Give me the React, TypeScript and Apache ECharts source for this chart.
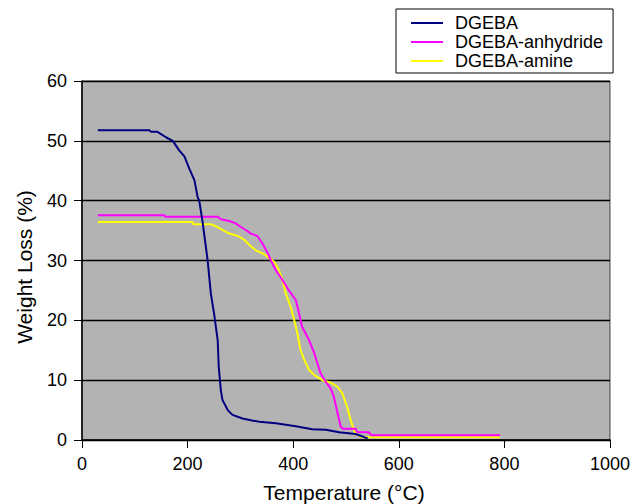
import React, { useEffect, useRef } from "react";
import * as echarts from "echarts";

const seriesNames = ["DGEBA", "DGEBA-anhydride", "DGEBA-amine"];

const dgebaT = [30, 128, 131, 143, 159, 172, 184, 194, 203, 213, 219, 222, 228, 238, 244, 250, 257, 259, 263, 266, 276, 285, 304, 320, 336, 367, 405, 436, 462, 487, 518, 525, 537, 541];
const dgebaW = [51.75, 51.75, 51.5, 51.5, 50.6, 50.0, 48.4, 47.4, 45.4, 43.4, 40.6, 40.0, 36.7, 30.0, 24.5, 21.2, 16.7, 12.2, 8.3, 6.7, 5.0, 4.2, 3.6, 3.3, 3.05, 2.8, 2.3, 1.8, 1.7, 1.3, 1.0, 0.8, 0.4, 0.3];

const anhT = [30, 156, 158, 257, 263, 279, 291, 301, 310, 320, 332, 342, 351, 358, 367, 380, 392, 405, 411, 417, 430, 440, 446, 452, 462, 471, 477, 484, 490, 494, 518, 521, 543, 548, 792];
const anhW = [37.55, 37.55, 37.3, 37.3, 36.9, 36.6, 36.2, 35.6, 35.1, 34.5, 34.1, 32.8, 31.4, 30.0, 28.4, 26.7, 25.0, 23.4, 21.2, 18.9, 16.7, 14.5, 12.8, 11.1, 9.7, 8.6, 7.2, 4.5, 2.2, 1.9, 1.9, 1.35, 1.3, 0.8, 0.8];

const amineT = [30, 209, 211, 244, 254, 266, 279, 295, 307, 317, 329, 342, 354, 364, 373, 380, 386, 395, 402, 408, 414, 421, 430, 440, 455, 471, 484, 493, 502, 509, 515, 518, 528, 543, 792];
const amineW = [36.45, 36.45, 36.05, 36.05, 35.7, 35.1, 34.5, 34.1, 33.5, 32.6, 31.7, 31.2, 30.5, 29.8, 28.4, 26.7, 24.5, 22.3, 20.0, 17.8, 15.0, 13.4, 11.7, 10.85, 10.0, 9.6, 8.9, 7.8, 5.6, 3.3, 1.7, 1.1, 0.55, 0.45, 0.45];

const xTitle = "Temperature (°C)";
const yTitle = "Weight Loss (%)";

const FONT = "'Liberation Sans', Arial, sans-serif";

function zip(t: number[], w: number[]) {
  return t.map((v, i) => [v, w[i]]);
}

export default function App() {
  const ref = useRef<HTMLDivElement>(null);
  useEffect(() => {
    document.body.style.margin = "0";
    if (!ref.current) return;
    const chart = echarts.init(ref.current, null, { renderer: "svg" });
    const colors = ["#000080", "#FF00FF", "#FFFF00"];
    const datas = [zip(dgebaT, dgebaW), zip(anhT, anhW), zip(amineT, amineW)];
    chart.setOption({
      animation: false,
      backgroundColor: "#FFFFFF",
      grid: {
        left: 82,
        right: 21,
        top: 81,
        bottom: 64,
        show: true,
        backgroundColor: "#B3B3B3",
        borderColor: "#404040",
        borderWidth: 1,
      },
      legend: {
        orient: "vertical",
        left: 396,
        top: 9,
        padding: [5, 10, 3, 15],
        itemGap: 1,
        itemWidth: 32,
        itemHeight: 2,
        icon: "rect",
        backgroundColor: "#FFFFFF",
        borderColor: "#000000",
        borderWidth: 1,
        borderRadius: 0,
        textStyle: {
          fontFamily: FONT,
          fontSize: 18,
          color: "#000000",
          lineHeight: 17,
          padding: [0, 0, 0, 7],
        },
        data: seriesNames,
      },
      xAxis: {
        type: "value",
        min: 0,
        max: 1000,
        interval: 200,
        axisLine: { show: true, onZero: false, lineStyle: { color: "#000000", width: 1.5 } },
        axisTick: { show: true, length: 8, lineStyle: { color: "#000000", width: 1 } },
        axisLabel: {
          fontFamily: FONT,
          fontSize: 18,
          color: "#000000",
          margin: 15,
          formatter: (v: number) => String(v),
        },
        splitLine: { show: false },
      },
      yAxis: {
        type: "value",
        min: 0,
        max: 60,
        interval: 10,
        axisLine: { show: true, lineStyle: { color: "#000000", width: 1.5 } },
        axisTick: { show: true, length: 8, lineStyle: { color: "#000000", width: 1 } },
        axisLabel: {
          fontFamily: FONT,
          fontSize: 18,
          color: "#000000",
          margin: 15,
          formatter: (v: number) => String(v),
        },
        splitLine: { show: true, lineStyle: { color: "#000000", width: 1.3 } },
      },
      graphic: [
        {
          type: "text",
          x: 344,
          y: 492,
          style: {
            text: xTitle,
            fontFamily: FONT,
            fontSize: 21,
            fill: "#000000",
            align: "center",
            verticalAlign: "middle",
          },
        },
        {
          type: "text",
          x: 24,
          y: 267,
          rotation: Math.PI / 2,
          style: {
            text: yTitle,
            fontFamily: FONT,
            fontSize: 21,
            fill: "#000000",
            align: "center",
            verticalAlign: "middle",
          },
        },
      ],
      series: seriesNames.map((name, i) => ({
        name,
        type: "line",
        data: datas[i],
        symbol: "none",
        smooth: false,
        color: colors[i],
        lineStyle: { color: colors[i], width: 2 },
        z: 5 - i,
      })),
    });
    return () => chart.dispose();
  }, []);
  return (
    <div
      ref={ref}
      style={{ width: 633, height: 504, position: "fixed", left: 0, top: 0 }}
    />
  );
}
